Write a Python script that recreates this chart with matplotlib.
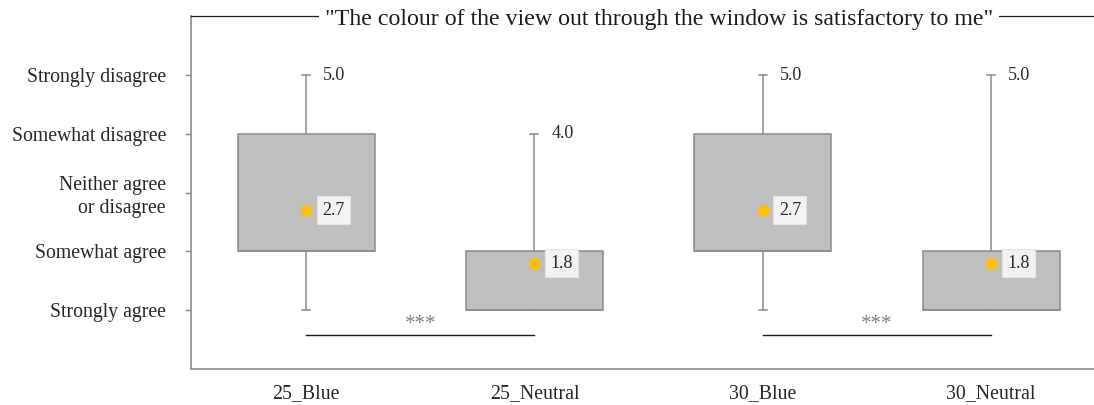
import matplotlib.pyplot as plt

plt.rcParams['font.family'] = ['Liberation Serif', 'DejaVu Serif']

# Data
groups = ['25_Blue', '25_Neutral', '30_Blue', '30_Neutral']
q1 = [2, 1, 2, 1]
q3 = [4, 2, 4, 2]
medians = [2, 1, 2, 1]
whisker_low = [1, 1, 1, 1]
whisker_high = [5, 4, 5, 5]
means = [2.7, 1.8, 2.7, 1.8]

likert_ticks = [1, 2, 3, 4, 5]
likert_labels = ['Strongly agree', 'Somewhat agree', 'Neither agree\nor disagree',
                 'Somewhat disagree', 'Strongly disagree']

sig_pairs = [(0, 1), (2, 3)]
sig_labels = ['***', '***']

title = '"The colour of the view out through the window is satisfactory to me"'

text_col = '#262626'
frame_col = '#8c8c8c'

fig = plt.figure(figsize=(10.94, 4.05), dpi=100)
ax = fig.add_axes([191 / 1094, 1 - 368.75 / 405, 1 - 191 / 1094 + 0.002, (368.75 - 16.25) / 405])

stats = []
for i, g in enumerate(groups):
    stats.append(dict(label=g, q1=q1[i], q3=q3[i], med=medians[i],
                      whislo=whisker_low[i], whishi=whisker_high[i], mean=means[i]))

positions = list(range(len(groups)))
ax.bxp(stats, positions=positions, widths=0.6, patch_artist=True, showmeans=True,
       showfliers=False, capwidths=0.035,
       boxprops=dict(facecolor='#bfbfbf', edgecolor='#8c8c8c', linewidth=1.1),
       whiskerprops=dict(color='#8c8c8c', linewidth=1.1),
       capprops=dict(color='#8c8c8c', linewidth=1.1),
       medianprops=dict(color='#8c8c8c', linewidth=1.1),
       meanprops=dict(marker='o', markerfacecolor='#FFC000', markeredgecolor='#FFC000',
                      markersize=7.5))

# value labels
for i in positions:
    ax.annotate(f'{whisker_high[i]:.1f}', xy=(i, whisker_high[i]), xytext=(17, 0),
                textcoords='offset pixels', ha='left', va='center',
                fontsize=13, color=text_col)
    ax.annotate(f'{means[i]:.1f}', xy=(i, means[i]), xytext=(16, 0),
                textcoords='offset pixels', ha='left', va='center',
                fontsize=13, color=text_col,
                bbox=dict(boxstyle='square,pad=0.3', facecolor='#f2f2f2',
                          edgecolor='#e4e4e4', linewidth=0.8))

# significance markers
for (a, b), lab in zip(sig_pairs, sig_labels):
    ax.plot([a, b], [0.57, 0.57], color='#1a1a1a', linewidth=1.0)
    ax.text((a + b) / 2, 0.76, lab, ha='center', va='center',
            fontsize=15, color='#7f7f7f')

ax.set_xlim(-0.504, 3.46)
ax.set_ylim(0, 6)
ax.set_yticks(likert_ticks)
ax.set_yticklabels(likert_labels, fontsize=14.2, color=text_col, linespacing=1.25)
ax.set_xticks(positions)
ax.set_xticklabels(groups, fontsize=14.3, color=text_col)
ax.tick_params(axis='y', length=4, width=1.0, color=frame_col, pad=14)
ax.tick_params(axis='x', length=0, pad=11)

for side in ['left', 'bottom', 'top']:
    ax.spines[side].set_color(frame_col)
    ax.spines[side].set_linewidth(1.2)
ax.spines['right'].set_visible(False)
ax.spines['top'].set_color('#1a1a1a')
ax.spines['top'].set_linewidth(0.9)

fig.text(659 / 1094, 1 - 19 / 405, title, ha='center', va='center', fontsize=17.2,
         color='#1a1a1a',
         bbox=dict(boxstyle='square,pad=0.25', facecolor='white', edgecolor='none'))

fig.savefig('out.png', dpi=100)
